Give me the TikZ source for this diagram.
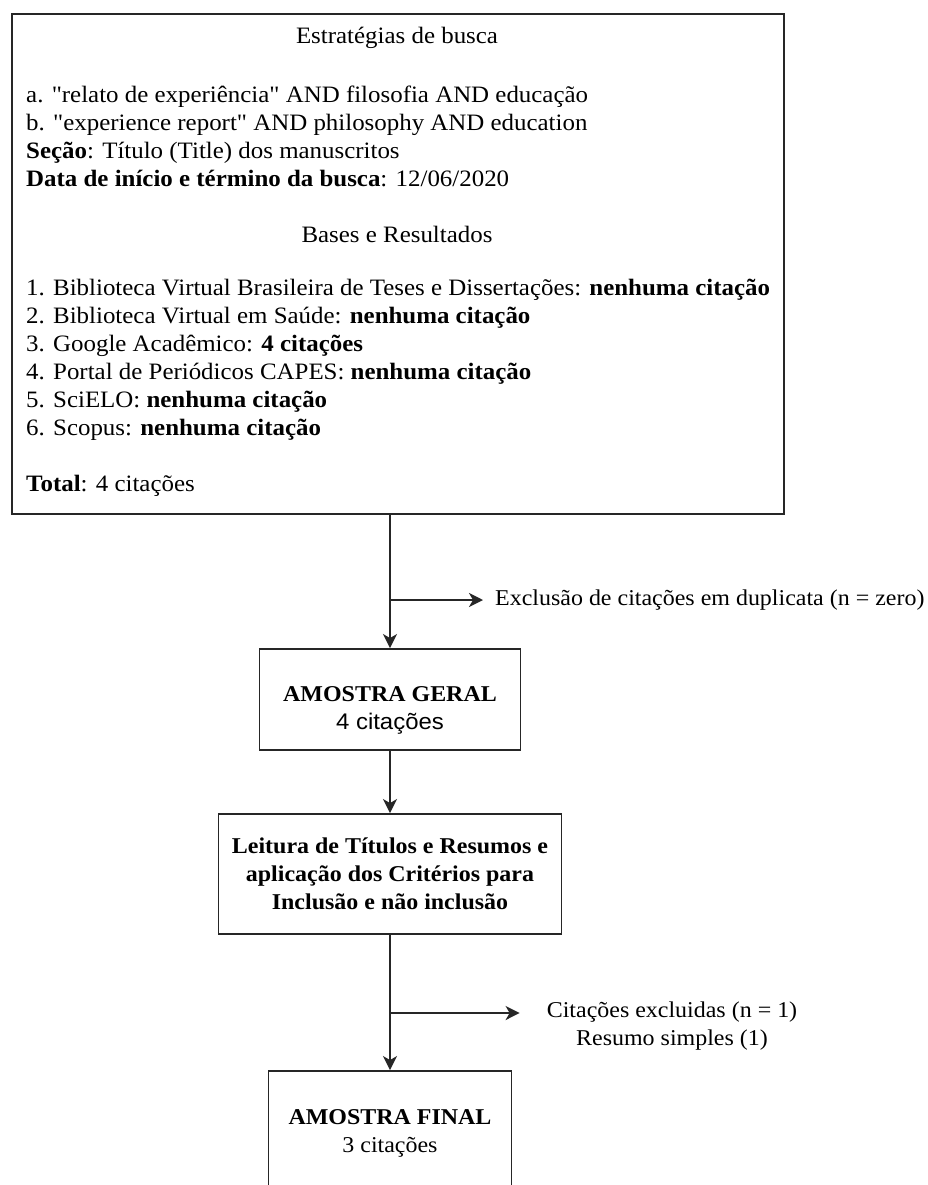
\documentclass[tikz,border=0pt]{standalone}
\usepackage{fontspec}
\setmainfont{Liberation Serif}[FakeStretch=1.06, Ligatures=TeXOff]
\newfontfamily\arialf{Liberation Sans}[FakeStretch=1.06]
\usetikzlibrary{arrows.meta}
\begin{document}
\begin{tikzpicture}[x=1pt,y=-1pt,
  box/.style={draw=black!85, line width=1.9pt, inner sep=0pt},
  conn/.style={draw=black!85, line width=1.9pt, -{Stealth[length=14pt,width=14pt,inset=4pt]}},
  toptxt/.style={inner sep=0pt, font=\fontsize{23.5}{28}\selectfont},
  txt/.style={inner sep=0pt, font=\fontsize{22.6}{28}\selectfont},
  boxtxt/.style={box, align=center, font=\fontsize{22.6}{28}\selectfont}]
\useasboundingbox (0,0) rectangle (927,1185);
\clip (0,0) rectangle (927,1185);
\fill[white] (0,0) rectangle (927,1185);

% top box
\node[box, minimum width=772pt, minimum height=500pt, anchor=north west] (top) at (11,13) {};
\node[toptxt] (t1) at (397,38) {Estratégias de busca};
\node[toptxt, align=left, anchor=west] (t2) at (26,136) {a. "relato de experiência" AND filosofia AND educação\\
b. "experience report" AND philosophy AND education\\
\textbf{Seção}: Título (Title) dos manuscritos\\
\textbf{Data de início e término da busca}: 12/06/2020};
\node[toptxt] (t3) at (397,234) {Bases e Resultados};
\node[toptxt, align=left, anchor=west] (t4) at (26,360) {1. Biblioteca Virtual Brasileira de Teses e Dissertações: \textbf{nenhuma citação}\\
2. Biblioteca Virtual em Saúde: \textbf{nenhuma citação}\\
3. Google Acadêmico: \textbf{4 citações}\\
4. Portal de Periódicos CAPES: \textbf{nenhuma citação}\\
5. SciELO: \textbf{nenhuma citação}\\
6. Scopus: \textbf{nenhuma citação}};
\node[toptxt, anchor=west] (t5) at (26,486) {\textbf{Total}: 4 citações};

% lower boxes
\node[box, minimum width=261pt, minimum height=101pt] (geral) at (390,699.5) {};
\node[txt, align=center] (geraltxt) at (390,710) {\textbf{AMOSTRA GERAL}\\{\arialf 4 citações}};
\node[boxtxt, minimum width=343pt, minimum height=120pt] (leit) at (390,874) {\textbf{Leitura de Títulos e Resumos e}\\\textbf{aplicação dos Critérios para}\\\textbf{Inclusão e não inclusão}};
\node[boxtxt, minimum width=243pt, minimum height=124pt] (final) at (390,1133) {\textbf{AMOSTRA FINAL}\\3 citações};

% side texts
\node[txt, anchor=west] (excl) at (495,600) {Exclusão de citações em duplicata (n = zero)};
\node[txt, align=center] (exc2) at (672,1026) {Citações excluidas (n = 1)\\Resumo simples (1)};

% connectors
\draw[conn] (top.south -| geral.north) -- (geral.north);
\coordinate (j1) at (excl.west -| geral.north);
\draw[conn] (j1) -- ([xshift=-12pt]excl.west);
\draw[conn] (geral.south) -- (leit.north);
\draw[conn] (leit.south) -- (final.north);
\coordinate (j2) at (exc2.west |- 0,1013);
\coordinate (j2a) at (j2 -| final.north);
\draw[conn] (j2a) -- ([xshift=-27pt]j2);
\end{tikzpicture}
\end{document}
